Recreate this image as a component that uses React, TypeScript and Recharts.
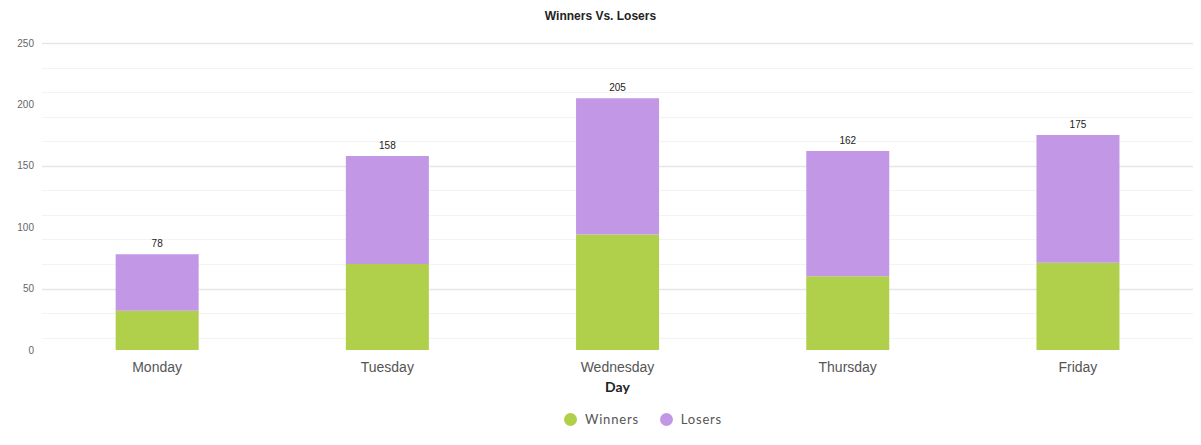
import React from "react"
import { Bar, BarChart, CartesianGrid, LabelList, Legend, XAxis, YAxis } from "recharts"

const days = ["Monday", "Tuesday", "Wednesday", "Thursday", "Friday"]
const winners = [32, 70, 94, 60, 71]
const losers = [46, 88, 111, 102, 104]
const yTicks = [0, 50, 100, 150, 200, 250]
const gridValues = [0, 10, 20, 30, 40, 50, 60, 70, 80, 90, 100, 110, 120, 130, 140, 150, 160, 170, 180, 190, 200, 210, 220, 230, 240, 250]
const seriesOrder = ["Winners", "Losers"]

const data = days.map((day, i) => ({
  day,
  winners: winners[i],
  losers: losers[i],
  total: winners[i] + losers[i],
}))

const GREEN = "#b0cf4a"
const PURPLE = "#c297e6"
const PLOT_TOP = 43
const PLOT_H = 307

function GridLine(props: any) {
  const v = Math.round((250 - ((props.y1 - PLOT_TOP) / PLOT_H) * 250) / 10) * 10
  const major = v % 50 === 0
  return (
    <line
      key={props.key}
      x1={props.x1}
      x2={props.x2}
      y1={Math.round(props.y1) + 0.5}
      y2={Math.round(props.y2) + 0.5}
      stroke={major ? "#e6e6e6" : "#f3f3f3"}
      strokeWidth={major ? 1.5 : 1}
    />
  )
}

function LegendContent(props: any) {
  const items = [...(props.payload || [])].sort(
    (a: any, b: any) => seriesOrder.indexOf(a.value) - seriesOrder.indexOf(b.value)
  )
  return (
    <div style={{ display: "flex", justifyContent: "center", paddingLeft: 114, paddingTop: 11 }}>
      {items.map((it: any) => (
        <div key={it.value} style={{ display: "flex", alignItems: "center", marginRight: 21 }}>
          <span
            style={{
              width: 13,
              height: 13,
              borderRadius: "50%",
              background: it.color,
              display: "inline-block",
              marginRight: 8,
            }}
          />
          <span style={{ fontFamily: "Lato", fontSize: 13, color: "#555", letterSpacing: 0.8 }}>{it.value}</span>
        </div>
      ))}
    </div>
  )
}

export default function App() {
  return (
    <div style={{ position: "absolute", left: 0, top: 0, width: 1201, height: 445, background: "#fff" }}>
      <div
        style={{
          position: "absolute",
          top: 9,
          width: 1201,
          textAlign: "center",
          fontFamily: "Liberation Sans, Arial",
          fontWeight: "bold",
          fontSize: 12,
          color: "#222",
        }}
      >
        Winners Vs. Losers
      </div>
      <BarChart
        width={1201}
        height={445}
        data={data}
        margin={{ top: PLOT_TOP, right: 8, left: 0, bottom: 0 }}
        barCategoryGap="32%"
      >
        <CartesianGrid horizontalValues={gridValues} vertical={false} horizontal={GridLine} />
        <XAxis
          dataKey="day"
          axisLine={false}
          tickLine={false}
          height={50}
          tickMargin={6}
          tick={{ fontSize: 14, fill: "#555", fontFamily: "Liberation Sans, Arial" }}
          label={{
            value: "Day",
            position: "insideBottom",
            offset: 8,
            style: { fontSize: 14, fontWeight: "bold", fill: "#222", fontFamily: "Lato" },
          }}
        />
        <YAxis
          width={42}
          domain={[0, 250]}
          ticks={yTicks}
          axisLine={false}
          tickLine={false}
          tick={{ fontSize: 10, fill: "#666", fontFamily: "Liberation Sans, Arial" }}
        />
        <Legend verticalAlign="bottom" height={45} content={<LegendContent />} />
        <Bar dataKey="winners" name="Winners" stackId="a" fill={GREEN} isAnimationActive={false} />
        <Bar dataKey="losers" name="Losers" stackId="a" fill={PURPLE} isAnimationActive={false}>
          <LabelList
            dataKey="total"
            position="top"
            offset={7}
            style={{ fontSize: 10, fill: "#222", fontFamily: "Liberation Sans, Arial" }}
          />
        </Bar>
      </BarChart>
    </div>
  )
}
